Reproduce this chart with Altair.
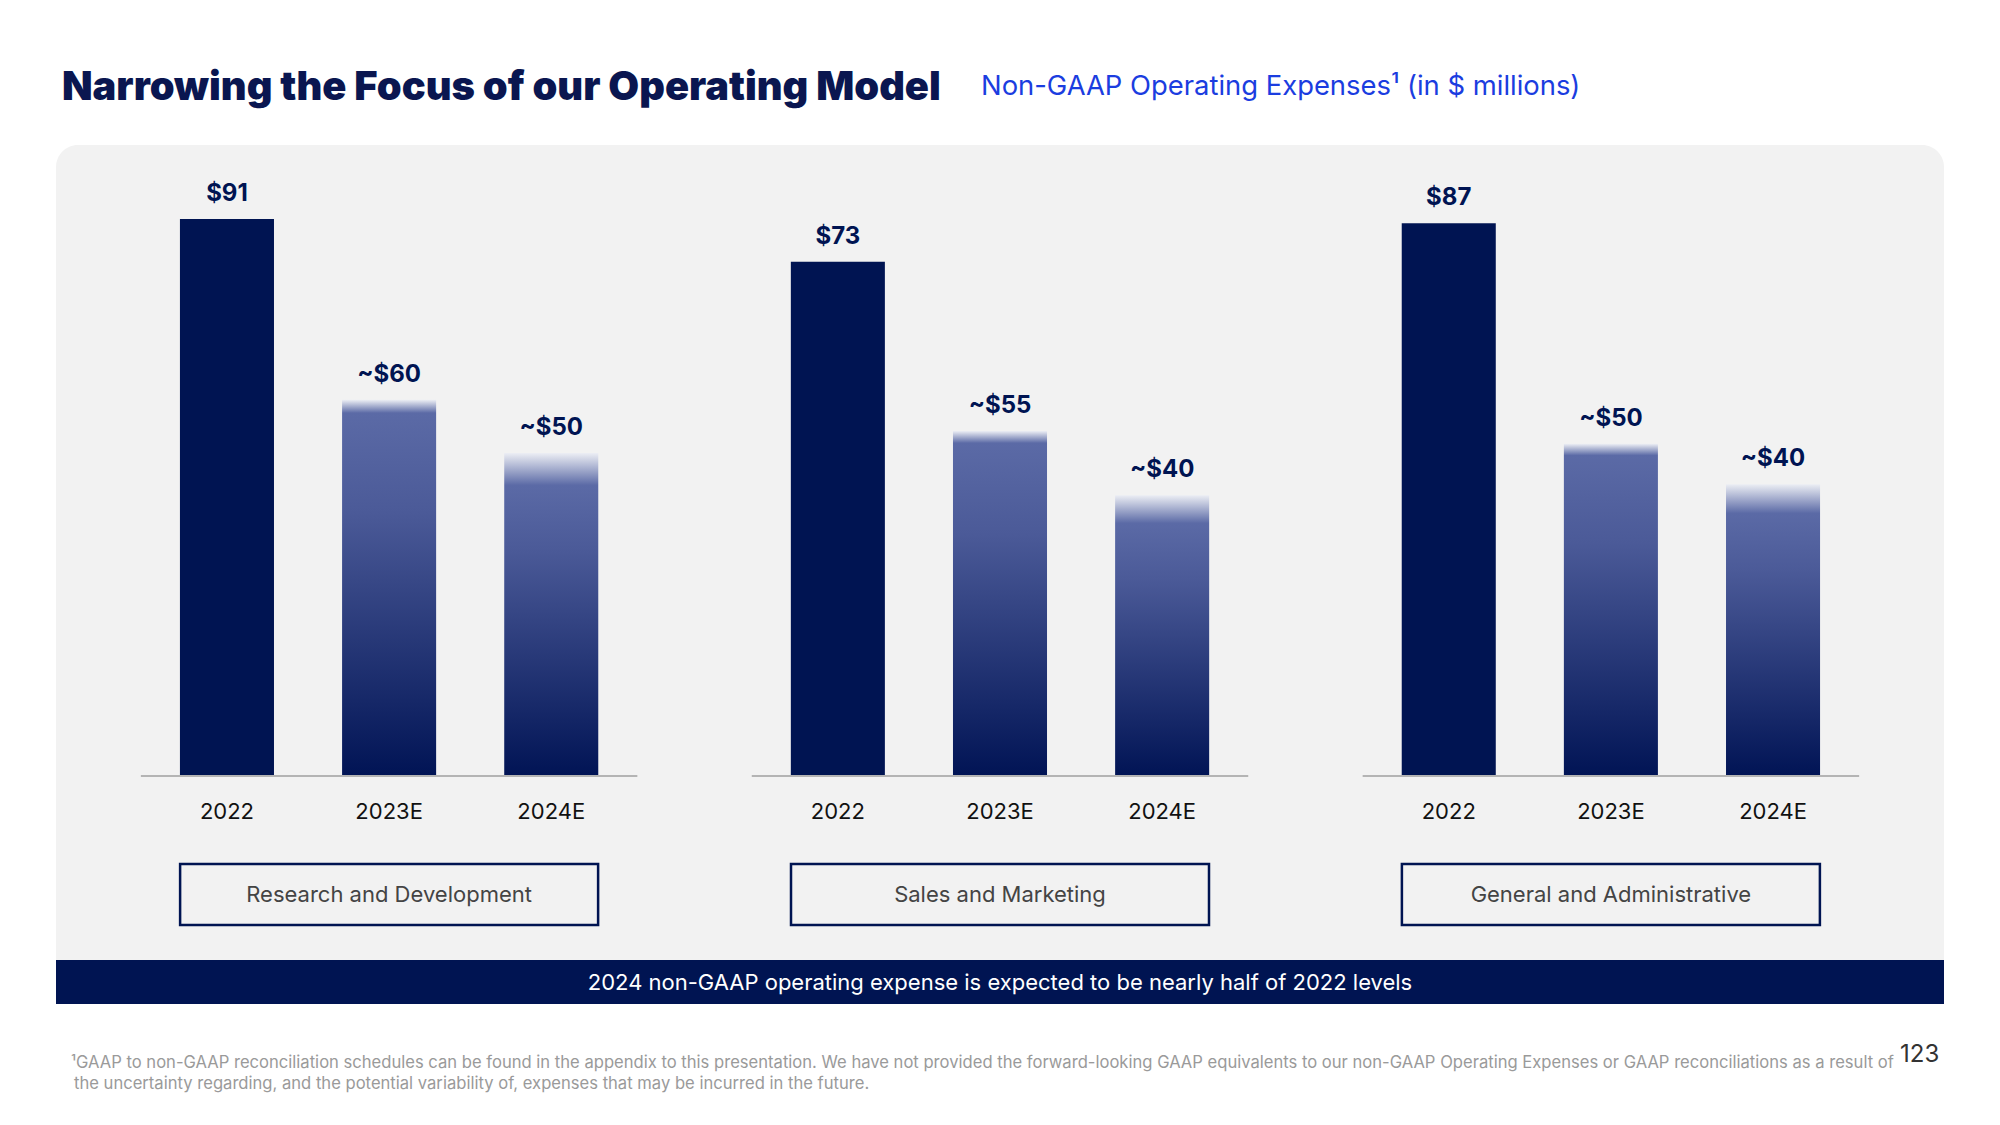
import altair as alt
import pandas as pd

# ---------------- data ----------------
panels = ["Research and Development", "Sales and Marketing", "General and Administrative"]
years = ["2022", "2023E", "2024E"]
estimate = [False, True, True]

# labelled values ($ millions)
rd_values = [91, 60, 50]
sm_values = [73, 55, 40]
ga_values = [87, 50, 40]

# bar heights as drawn on the slide (same units as the $91 bar)
rd_drawn = [91.0, 61.4, 52.7]
sm_drawn = [84.0, 56.3, 45.8]
ga_drawn = [90.3, 54.2, 47.6]

title_text = "Narrowing the Focus of our Operating Model"
subtitle_text = "Non-GAAP Operating Expenses\u00b9 (in $ millions)"
banner_text = "2024 non-GAAP operating expense is expected to be nearly half of 2022 levels"
footnote_lines = [
    "\u00b9GAAP to non-GAAP reconciliation schedules can be found in the appendix to this presentation. We have not provided the forward-looking GAAP equivalents to our non-GAAP Operating Expenses or GAAP reconciliations as a result of",
    "the uncertainty regarding, and the potential variability of, expenses that may be incurred in the future.",
]
page_number = "123"

rows = []
for p, vals, drawn in zip(panels, [rd_values, sm_values, ga_values], [rd_drawn, sm_drawn, ga_drawn]):
    for yr, v, d, e in zip(years, vals, drawn, estimate):
        rows.append({"panel": p, "year": yr, "value": v, "drawn": d,
                     "label": ("~$" if e else "$") + str(v)})
df = pd.DataFrame(rows)
one = pd.DataFrame({"k": [0]})

# ---------------- styles ----------------
NAVY = "#001452"
FONT = "Inter"
W, H = 1984, 1100

XS = alt.X("panel:N", axis=None,
           scale=alt.Scale(domain=panels, paddingInner=0.1873, paddingOuter=0.2175))
XO = alt.XOffset("year:N",
                 scale=alt.Scale(domain=years, paddingInner=0.42, paddingOuter=0.241))
YS = alt.Scale(domain=[0, 100], range=[767, 156])


def grad(fade):
    return alt.LinearGradient(
        gradient="linear", x1=0, y1=0, x2=0, y2=1,
        stops=[
            alt.GradientStop(offset=0, color="#eceef4"),
            alt.GradientStop(offset=fade, color="#5b6aa6"),
            alt.GradientStop(offset=0.3, color="#4b5a98"),
            alt.GradientStop(offset=1, color="#011455"),
        ],
    )


base = alt.Chart(df)

bg = alt.Chart(one).mark_rect(color="#f2f2f2", cornerRadius=22).encode(
    x=alt.value(48), x2=alt.value(1936), y=alt.value(137), y2=alt.value(985))
banner = alt.Chart(one).mark_rect(color=NAVY).encode(
    x=alt.value(48), x2=alt.value(1936), y=alt.value(952), y2=alt.value(996))
banner_lbl = alt.Chart(one).mark_text(
    text=banner_text, font=FONT, fontSize=22, color="white", align="center", baseline="middle"
).encode(x=alt.value(992), y=alt.value(975))

axis_lines = base.transform_filter("datum.year == '2022'").mark_rect(color="#b4b4b4").encode(
    x=XS, y=alt.value(767), y2=alt.value(769))

bars_a = base.transform_filter("datum.year == '2022'").mark_bar(color=NAVY).encode(
    x=XS, xOffset=XO, y=alt.Y("drawn:Q", scale=YS, axis=None))
bars_b = base.transform_filter("datum.year == '2023E'").mark_bar(color=grad(0.035)).encode(
    x=XS, xOffset=XO, y=alt.Y("drawn:Q", scale=YS, axis=None))
bars_c = base.transform_filter("datum.year == '2024E'").mark_bar(color=grad(0.1)).encode(
    x=XS, xOffset=XO, y=alt.Y("drawn:Q", scale=YS, axis=None))

value_lbl = base.mark_text(font=FONT, fontSize=24, fontWeight="bold", color=NAVY,
                           baseline="alphabetic", dy=-18).encode(
    x=XS, xOffset=XO, y=alt.Y("drawn:Q", scale=YS, axis=None), text="label:N")

year_lbl = base.mark_text(font=FONT, fontSize=22, color="#111111", baseline="middle").encode(
    x=XS, xOffset=XO, y=alt.value(804), text="year:N")

boxes = base.transform_filter("datum.year == '2022'").mark_bar(
    filled=False, color=NAVY, strokeWidth=2.5, size=418).encode(
    x=XS, y=alt.value(856), y2=alt.value(917))
box_lbl = base.transform_filter("datum.year == '2022'").mark_text(
    font=FONT, fontSize=22, color="#444444", baseline="middle").encode(
    x=XS, y=alt.value(887), text="panel:N")

title = alt.Chart(one).mark_text(text=title_text, font=FONT, fontSize=39.8, fontWeight=900,
                                 color="#0a1650", align="left", baseline="alphabetic").encode(
    x=alt.value(54), y=alt.value(92))
subtitle = alt.Chart(one).mark_text(text=subtitle_text, font=FONT, fontSize=27.4,
                                    color="#1b3de0", align="left", baseline="alphabetic").encode(
    x=alt.value(973), y=alt.value(87))

foot1 = alt.Chart(one).mark_text(text=footnote_lines[0], font=FONT, fontSize=16.6,
                                 color="#9a9a9a", align="left", baseline="alphabetic").encode(
    x=alt.value(63), y=alt.value(1060))
foot2 = alt.Chart(one).mark_text(text=footnote_lines[1], font=FONT, fontSize=16.6,
                                 color="#9a9a9a", align="left", baseline="alphabetic").encode(
    x=alt.value(66), y=alt.value(1081))
pnum = alt.Chart(one).mark_text(text=page_number, font=FONT, fontSize=24,
                                color="#333333", align="left", baseline="alphabetic").encode(
    x=alt.value(1892), y=alt.value(1054))

chart = alt.layer(
    bg, banner, banner_lbl, axis_lines, bars_a, bars_b, bars_c, value_lbl, year_lbl,
    boxes, box_lbl, title, subtitle, foot1, foot2, pnum
).properties(
    width=W, height=H, autosize=alt.AutoSizeParams(type="none"), padding=0,
    background="white"
).configure_view(stroke=None)

chart.save("out.html", embed_options={"renderer": "svg", "actions": False})
